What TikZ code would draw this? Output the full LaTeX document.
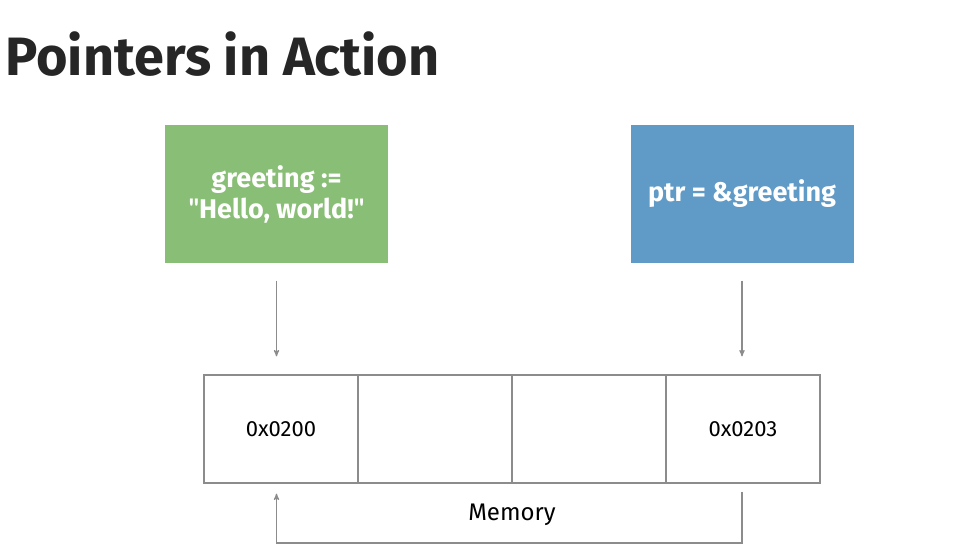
\documentclass[tikz,border=0pt]{standalone}
\usepackage{fontspec}
\setmainfont{Fira Sans}
\newfontfamily\quotefont{Lato}
\usetikzlibrary{%
  arrows,%
  positioning,% wg. " of "
  calc%
}
\definecolor{boxgreen}{RGB}{137,190,118}
\definecolor{boxblue}{RGB}{96,154,198}
\definecolor{linegray}{RGB}{140,140,140}
\newcommand{\dq}{{\quotefont\bfseries\symbol{34}}}

\begin{document}
\begin{tikzpicture}
  [
  x=1pt, y=-1pt, >=stealth', line width=1.2pt,
  varbox/.style={rectangle, minimum height=138pt, minimum width=223pt, inner sep=0pt, text=white, align=center, font=\fontsize{27}{31}\selectfont\bfseries},
  cell/.style={rectangle, minimum height=108pt, minimum width=154pt, inner sep=0pt, draw=linegray, font=\fontsize{22}{26}\selectfont},
  link/.style={->, draw=linegray}
  ]

\useasboundingbox (0,0) rectangle (967,555);

\node[anchor=base west, inner sep=0pt, font=\fontsize{54}{60}\selectfont\bfseries, text=black!85] (title) at (5,75) {Pointers in Action};

\node[varbox, fill=boxgreen] (greeting) at (276.5,194) {greeting :=\\\dq Hello, world!\dq};
\node[varbox, fill=boxblue] (ptr) at (742,194) {ptr = \&greeting};

\foreach \c/\t in {1/0x0200,2/,3/,4/0x0203} {
  \node[cell] (c\c) at (127+154*\c,429) {\t};
}

\coordinate (back) at (512,543);
\node[font=\fontsize{24}{28}\selectfont] (memory) at (512,515) {Memory};

\draw[link, shorten <=17pt, shorten >=18pt] (greeting.south) -- (greeting.south |- c1.north);
\draw[link, shorten <=17pt, shorten >=18pt] (ptr.south) -- (ptr.south |- c4.north);

\draw[link, shorten <=8pt, shorten >=10pt] (ptr.south |- c4.south) -- (ptr.south |- back) -| (greeting.south |- c1.south);

\end{tikzpicture}
\end{document}
